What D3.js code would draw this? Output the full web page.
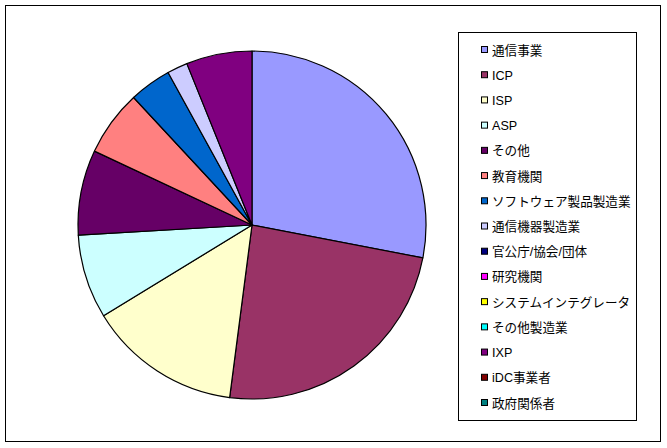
<!DOCTYPE html>
<html>
<head>
<meta charset="utf-8">
<script src="https://cdn.jsdelivr.net/npm/d3@7"></script>
<style>
  body { margin: 0; background: #fff; }
  text { font-family: "Liberation Sans", Arial, "Noto Sans CJK JP", sans-serif; font-size: 12.6px; }
</style>
</head>
<body>
<div id="chart"></div>
<script>
let width = 667;
let height = 448;

// 分類と割合(%)
let categories = ["通信事業", "ICP", "ISP", "ASP", "その他", "教育機関", "ソフトウェア製品製造業",
    "通信機器製造業", "官公庁/協会/団体", "研究機関", "システムインテグレータ", "その他製造業",
    "IXP", "iDC事業者", "政府関係者"];
let values = [28.0, 24.0, 14.2, 7.8, 7.9, 6.1, 3.9, 1.9, 0, 0, 0, 0, 6.1, 0, 0];
let colors = ["#9999FF", "#993366", "#FFFFCC", "#CCFFFF", "#660066", "#FF8080", "#0066CC",
    "#CCCCFF", "#000080", "#FF00FF", "#FFFF00", "#00FFFF", "#800080", "#800000", "#008080"];

function pieChart() {
    var svg = d3.select("#chart")
        .append("svg")
        .attr("width", width)
        .attr("height", height);

    svg.append("rect")
        .attr("x", 5.5).attr("y", 5.5)
        .attr("width", 655).attr("height", 436)
        .attr("fill", "#fff")
        .attr("stroke", "#000")
        .attr("stroke-width", 1);

    var color = d3.scaleOrdinal().domain(categories).range(colors);

    var pie = d3.pie().sort(null).value(d => d.value);
    var arc = d3.arc().innerRadius(0).outerRadius(174);

    var data = categories.map((c, i) => ({ name: c, value: values[i] }));

    var g = svg.append("g").attr("transform", "translate(252,225)");
    g.selectAll("path")
        .data(pie(data).filter(d => d.data.value > 0))
        .enter()
        .append("path")
        .attr("d", arc)
        .attr("fill", d => color(d.data.name))
        .attr("stroke", "#000")
        .attr("stroke-width", 1.2)
        .attr("stroke-linejoin", "round");

    // 凡例
    var legend = svg.append("g");
    legend.append("rect")
        .attr("x", 458.5).attr("y", 32.5)
        .attr("width", 178).attr("height", 388)
        .attr("fill", "#fff")
        .attr("stroke", "#000");

    var y = d3.scalePoint().domain(categories).range([50, 403]);

    var items = legend.selectAll("g.item")
        .data(categories)
        .enter()
        .append("g")
        .attr("class", "item")
        .attr("transform", d => "translate(0," + y(d) + ")");

    items.append("rect")
        .attr("x", 481.5).attr("y", -3.5)
        .attr("width", 6).attr("height", 6)
        .attr("fill", d => color(d))
        .attr("stroke", "#000")
        .attr("stroke-width", 1);

    items.append("text")
        .attr("x", 492)
        .attr("y", 0)
        .attr("dy", "0.36em")
        .text(d => d);
}

pieChart();
</script>
</body>
</html>
